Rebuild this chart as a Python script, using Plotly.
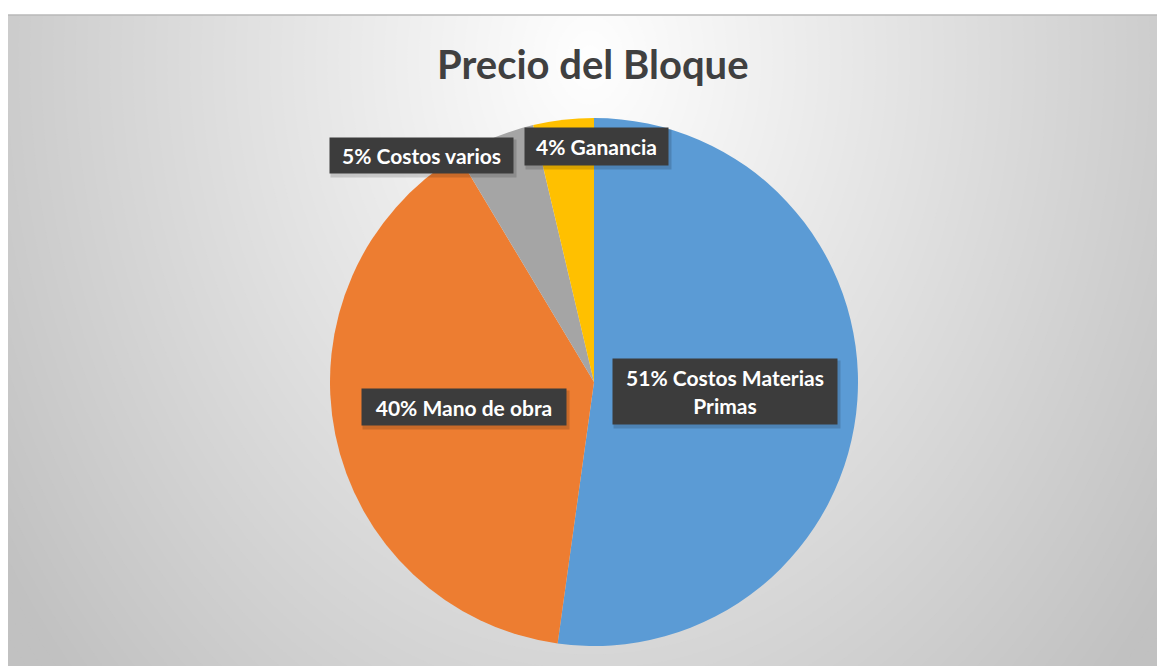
import plotly.graph_objects as go

# ---- data ----
categories = ["Costos Materias Primas", "Mano de obra", "Costos varios", "Ganancia"]
values = [52.2, 39.2, 4.9, 3.7]
label_texts = ["51% Costos Materias<br>Primas", "40% Mano de obra", "5% Costos varios", "4% Ganancia"]
colors = ["#5B9BD5", "#ED7D31", "#A5A5A5", "#FFC000"]
title_text = "Precio del Bloque"

# page is offset by the 8px body margin; coordinates below are page pixels
PAGE_W, PAGE_H = 1165, 666
OFF = 8
L, T = 8, 15          # chart frame top-left on the page
PW, PH = PAGE_W - L, PAGE_H - T


def px(x):
    return (x - L) / PW


def py(y):
    return (PAGE_H - y) / PH


fig = go.Figure()

# invisible cartesian axes for clipped gradient background
fig.add_trace(go.Scatter(x=[L, PAGE_W], y=[T, PAGE_H], mode="markers",
                         marker=dict(opacity=0), hoverinfo="skip", showlegend=False))

# pie (center 594,382 ; radius 264)
cx, cy, r = 594, 382, 264
fig.add_trace(go.Pie(
    labels=categories, values=values, sort=False, direction="clockwise", rotation=0,
    marker=dict(colors=colors, line=dict(width=0)),
    textinfo="none", hoverinfo="skip", showlegend=False,
    domain=dict(x=[px(cx - r), px(cx + r)], y=[py(cy + r), py(cy - r)]),
))

shapes = []
# radial gradient background
gcx, gcy, ky = 590, 60, 1.3
N = 70
rmax = 800
for i in range(N, 0, -1):
    rr = rmax * i / N
    g = int(round(255 - min(62, 0.088 * rr)))
    col = f"rgb({g},{g},{g})"
    shapes.append(dict(type="circle", xref="x", yref="y", layer="below",
                       x0=gcx - rr, x1=gcx + rr, y0=gcy - rr * ky, y1=gcy + rr * ky,
                       fillcolor=col, line=dict(width=0)))
# top border line
shapes.append(dict(type="line", xref="paper", yref="paper", x0=0, x1=1, y0=1, y1=1,
                   line=dict(color="#b8b8b8", width=1.5)))

annotations = []
annotations.append(dict(text=f"<b>{title_text}</b>", x=px(593), y=py(64), xref="paper", yref="paper",
                        xanchor="center", yanchor="middle", showarrow=False,
                        font=dict(family="Lato", size=40, color="#404040")))

# label boxes: (center x, center y, width, height)
boxes = [(725, 391.5, 224, 65), (464, 407, 204, 36), (421.5, 155.5, 183, 35), (596.5, 146.5, 143, 37)]
for (bx, by, bw, bh) in boxes:
    annotations.append(dict(text=" ", x=px(bx + 2), y=py(by + 3), xref="paper", yref="paper",
                            xanchor="center", yanchor="middle", showarrow=False,
                            width=bw + 2, height=bh + 2, borderpad=0, bgcolor="rgba(0,0,0,0.15)"))
for (bx, by, bw, bh), t in zip(boxes, label_texts):
    annotations.append(dict(text=f"<b>{t}</b>", x=px(bx), y=py(by), xref="paper", yref="paper",
                            xanchor="center", yanchor="middle", showarrow=False,
                            width=bw, height=bh, borderpad=0, bgcolor="#3c3c3c",
                            align="center", valign="middle",
                            font=dict(family="Lato", size=21, color="white")))

fig.update_layout(
    width=PAGE_W - OFF, height=PAGE_H - OFF,
    margin=dict(l=L - OFF, r=0, t=T - OFF, b=0),
    paper_bgcolor="white", plot_bgcolor="#c8c8c8",
    xaxis=dict(range=[L, PAGE_W], visible=False, fixedrange=True),
    yaxis=dict(range=[PAGE_H, T], visible=False, fixedrange=True),
    shapes=shapes, annotations=annotations, showlegend=False,
)

fig.write_html("out.html")
